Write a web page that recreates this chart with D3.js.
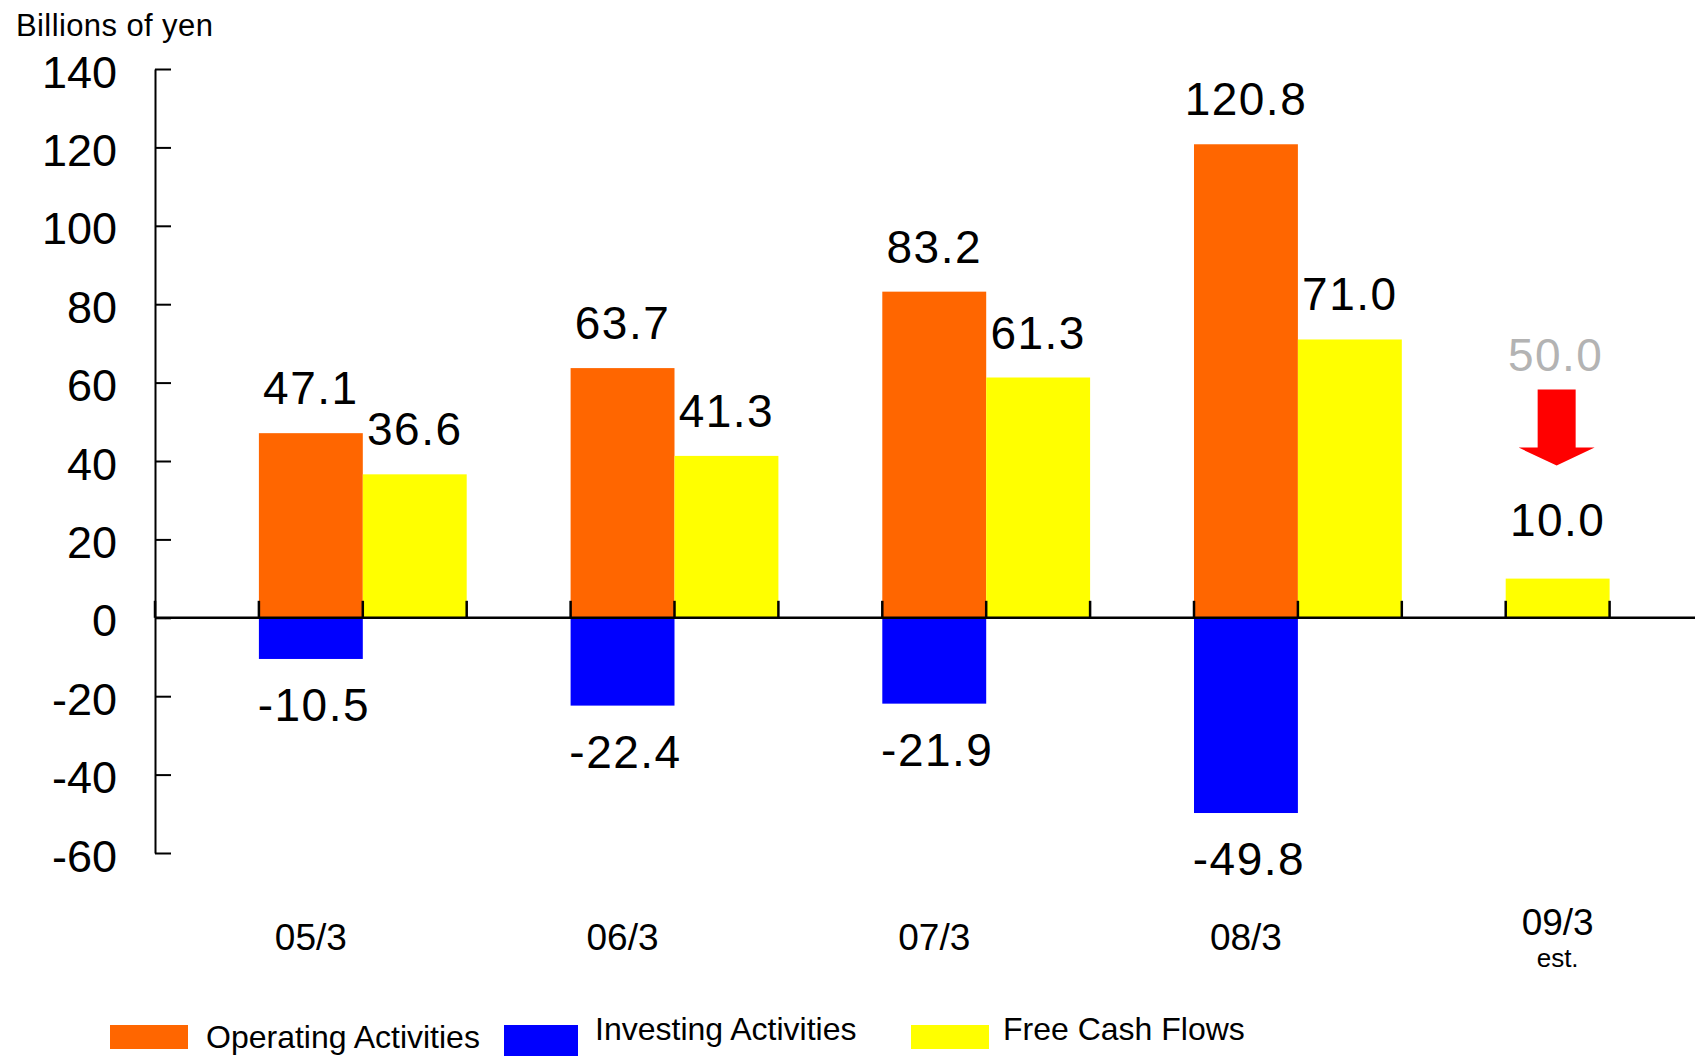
<!DOCTYPE html>
<html>
<head>
<meta charset="utf-8">
<script src="https://cdn.jsdelivr.net/npm/d3@7"></script>
<style>
  html, body { margin: 0; padding: 0; background: #ffffff; }
  svg { display: block; font-family: "Liberation Sans", Arial, Helvetica, sans-serif; }
</style>
</head>
<body>
<svg id="chart" width="1695" height="1056"></svg>
<script>
// ---- data ----
const categories = ["05/3", "06/3", "07/3", "08/3", "09/3"];
const categorySub = ["", "", "", "", "est."];
const operating = [47.1, 63.7, 83.2, 120.8, null];
const investing = [-10.5, -22.4, -21.9, -49.8, null];
const freeCashFlow = [36.6, 41.3, 61.3, 71.0, 10.0];
const previousEstimate = [null, null, null, null, 50.0];
const yTicks = [-60, -40, -20, 0, 20, 40, 60, 80, 100, 120, 140];
const seriesNames = ["Operating Activities", "Investing Activities", "Free Cash Flows"];
const unitLabel = "Billions of yen";

// ---- styles ----
const colors = { operating: "#ff6600", investing: "#0000ff", fcf: "#ffff00", prev: "#b3b3b3", arrow: "#ff0000" };

const svg = d3.select("#chart");
const axisX = 155;
const slotW = 103.9;

const locale = d3.formatLocale({ decimal: ".", thousands: ",", grouping: [3], currency: ["", ""], minus: "-" });
const fmt = locale.format(".1f");
const fmtInt = locale.format("d");

const y = d3.scaleLinear().domain([-60, 140]).range([853, 69]);
const x = d3.scaleBand().domain(categories).range([axisX, axisX + categories.length * 3 * slotW]).padding(0);
const slot = d3.scaleBand().domain(["gap", "first", "second"]).range([0, x.bandwidth()]).padding(0);

const rows = categories.map((c, i) => ({
  c, i,
  op: operating[i], inv: investing[i], fcf: freeCashFlow[i], prev: previousEstimate[i],
  fcfSlot: operating[i] == null ? "first" : "second"
}));

// ---- bars ----
const g = svg.append("g");
g.selectAll("rect.op").data(rows.filter(d => d.op != null)).join("rect")
  .attr("x", d => x(d.c) + slot("first")).attr("width", slot.bandwidth())
  .attr("y", d => y(d.op)).attr("height", d => y(0) - y(d.op))
  .attr("fill", colors.operating);
g.selectAll("rect.inv").data(rows.filter(d => d.inv != null)).join("rect")
  .attr("x", d => x(d.c) + slot("first")).attr("width", slot.bandwidth())
  .attr("y", y(0)).attr("height", d => y(d.inv) - y(0))
  .attr("fill", colors.investing);
g.selectAll("rect.fcf").data(rows.filter(d => d.fcf != null)).join("rect")
  .attr("x", d => x(d.c) + slot(d.fcfSlot)).attr("width", slot.bandwidth())
  .attr("y", d => y(d.fcf)).attr("height", d => y(0) - y(d.fcf))
  .attr("fill", colors.fcf);

// ---- y axis ----
const yAxis = d3.axisLeft(y).tickValues(yTicks).tickSizeInner(-16).tickSizeOuter(0).tickPadding(38)
  .tickFormat(fmtInt);
const ya = svg.append("g").attr("transform", `translate(${axisX},0)`).call(yAxis);
ya.select(".domain").attr("stroke", "#000").attr("stroke-width", 2);
ya.selectAll(".tick line").attr("stroke", "#000").attr("stroke-width", 2);
ya.selectAll(".tick text").attr("fill", "#000").attr("font-size", 45)
  .attr("font-family", "'Liberation Sans', Arial, sans-serif").attr("dy", "0.4em");

// ---- zero line and category ticks ----
svg.append("line").attr("x1", axisX).attr("x2", 1695).attr("y1", y(0)).attr("y2", y(0))
  .attr("stroke", "#000").attr("stroke-width", 2.5);
const boundaries = [];
categories.forEach(c => { slot.domain().forEach(s => boundaries.push(x(c) + slot(s))); });
boundaries.push(x.range()[1]);
svg.selectAll("line.ctick").data(boundaries).join("line")
  .attr("x1", d => d).attr("x2", d => d).attr("y1", y(0) - 17).attr("y2", y(0))
  .attr("stroke", "#000").attr("stroke-width", 2.5);

// ---- value labels ----
const lbl = svg.append("g").attr("font-size", 46).attr("fill", "#000").attr("text-anchor", "middle")
  .attr("letter-spacing", 1.5);
rows.forEach(d => {
  const cx1 = x(d.c) + slot("first") + slot.bandwidth() / 2;
  const cxF = x(d.c) + slot(d.fcfSlot) + slot.bandwidth() / 2;
  if (d.op != null) lbl.append("text").attr("x", cx1).attr("y", y(d.op) - 29).text(fmt(d.op));
  if (d.inv != null) lbl.append("text").attr("x", cx1 + 3).attr("y", y(d.inv) + 62).text(fmt(d.inv));
  if (d.fcf != null) {
    if (d.prev != null) {
      const top = y(d.fcf);
      lbl.append("text").attr("x", cxF).attr("y", top - 43).text(fmt(d.fcf));
      lbl.append("text").attr("x", cxF - 2).attr("y", top - 208).attr("fill", colors.prev).text(fmt(d.prev));
      const ax = cxF - 1;
      const pts = [
        [ax - 19, top - 189], [ax + 19, top - 189], [ax + 19, top - 131], [ax + 38, top - 131],
        [ax, top - 113], [ax - 38, top - 131], [ax - 19, top - 131]
      ];
      svg.append("path").attr("d", d3.line()(pts) + "Z").attr("fill", colors.arrow);
    } else {
      lbl.append("text").attr("x", cxF).attr("y", y(d.fcf) - 29).text(fmt(d.fcf));
    }
  }
});

// ---- category labels ----
const cl = svg.append("g").attr("fill", "#000").attr("text-anchor", "middle");
rows.forEach(d => {
  const cx = x(d.c) + x.bandwidth() / 2;
  const sub = categorySub[d.i];
  cl.append("text").attr("x", cx).attr("y", sub ? 935 : 950).attr("font-size", 37).text(d.c);
  if (sub) cl.append("text").attr("x", cx).attr("y", 967).attr("font-size", 26).text(sub);
});

// ---- unit label ----
svg.append("text").attr("x", 16).attr("y", 36).attr("font-size", 31).attr("letter-spacing", 0.4)
  .attr("fill", "#000").text(unitLabel);

// ---- legend ----
const legendItems = [
  { name: seriesNames[0], color: colors.operating, sx: 110, sw: 78, sh: 24, tx: 206, ty: 1048 },
  { name: seriesNames[1], color: colors.investing, sx: 504, sw: 74, sh: 32, tx: 595, ty: 1040 },
  { name: seriesNames[2], color: colors.fcf, sx: 911, sw: 78, sh: 24, tx: 1003, ty: 1040 }
];
const lg = svg.append("g");
legendItems.forEach(it => {
  lg.append("rect").attr("x", it.sx).attr("y", 1025).attr("width", it.sw).attr("height", it.sh).attr("fill", it.color);
  lg.append("text").attr("x", it.tx).attr("y", it.ty).attr("font-size", 32).attr("fill", "#000").text(it.name);
});
</script>
</body>
</html>
